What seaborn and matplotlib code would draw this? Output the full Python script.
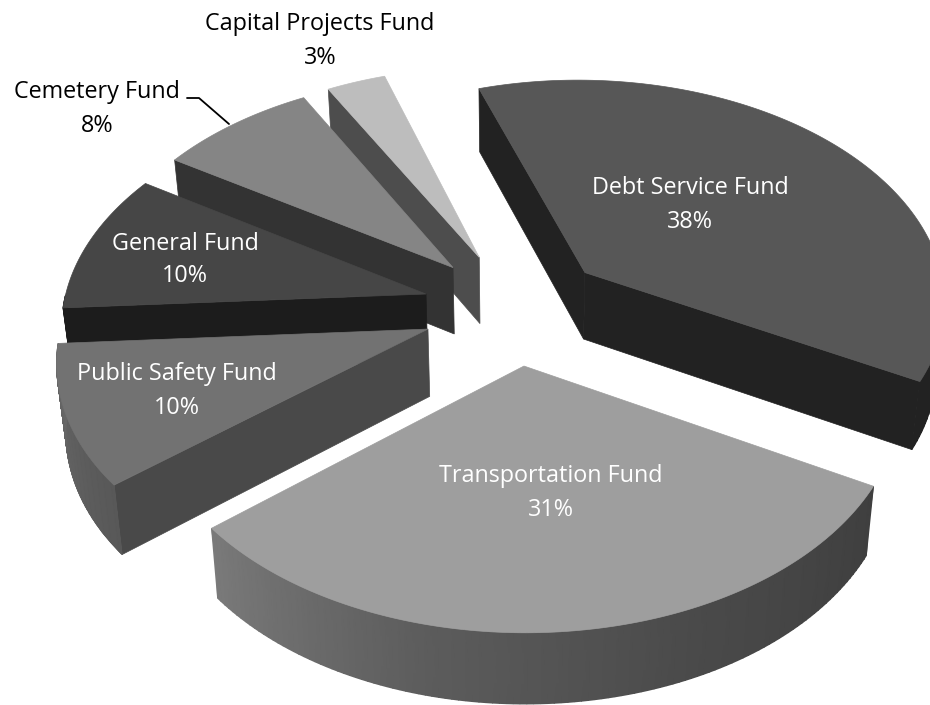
import numpy as np
import pandas as pd
import matplotlib
matplotlib.use('Agg')
import matplotlib.pyplot as plt
import seaborn as sns

# Chart values
funds = ['Debt Service Fund', 'Transportation Fund', 'Public Safety Fund',
         'General Fund', 'Cemetery Fund', 'Capital Projects Fund']
shares = [38, 31, 10, 10, 8, 3]

# Greys
top_colors = ['#575757', '#9e9e9e', '#727272', '#464646', '#858585', '#bdbdbd']
side_colors = ['#222222', '#444444', '#494949', '#1c1c1c', '#333333', '#4d4d4d']
rim_colors = [['#222222', '#222222'],
              ['#3f3f3f', '#4a4a4a', '#5c5c5c', '#7a7a7a'],
              ['#585858', '#686868'],
              ['#1c1c1c', '#1c1c1c'],
              ['#333333', '#333333'],
              ['#4d4d4d', '#4d4d4d']]
label_colors = ['white', 'white', 'white', 'white', 'black', 'black']
label_x = [690, 551, 177, 185, 97, 320]
label_y = [205, 493, 391, 260, 109, 41]

# Order the slices are painted in, back to front
paint_order = [5, 4, 3, 0, 2, 1]

# Pie geometry in pixels
cx, cy = 515, 308
radius_x, radius_y = 363, 222
persp_x, persp_y = 0.12, 0.114
explode = 0.255
depth = 67
depth_persp = 0.05
base_shrink = 0.98
start_angle = -18

sns.set_theme(style='white')
plt.rcParams['font.family'] = ['Open Sans', 'DejaVu Sans']


def project(p, q):
    x = cx + radius_x * p / (1 + persp_x * q)
    y = cy - radius_y * q / (1 + persp_y * q)
    return x, y


def lower(x, y, q):
    return cx + (x - cx) * base_shrink, y + depth * (1 - depth_persp * q)


df = pd.DataFrame({'fund': funds, 'share': shares})
df['end'] = start_angle + df['share'].cumsum() * 3.6
df['start'] = df['end'] - df['share'] * 3.6
df['mid'] = np.radians((df['start'] + df['end']) / 2)

fig = plt.figure(figsize=(9.3, 7.05), dpi=100)
ax = fig.add_axes([0, 0, 1, 1])
ax.set_xlim(0, 930)
ax.set_ylim(705, 0)
ax.axis('off')

for i in paint_order:
    row = df.iloc[i]
    theta = np.radians(np.linspace(row['start'], row['end'], 120))
    off_p = explode * np.sin(row['mid'])
    off_q = explode * np.cos(row['mid'])
    rim_q = off_q + np.cos(theta)
    rim_x, rim_y = project(off_p + np.sin(theta), rim_q)
    apex_x, apex_y = project(off_p, off_q)
    low_x, low_y = lower(rim_x, rim_y, rim_q)
    low_ax, low_ay = lower(apex_x, apex_y, off_q)

    # flat sides, only the ones turned to the viewer
    if np.sin(theta[0]) < 0:
        ax.fill([apex_x, rim_x[0], low_x[0], low_ax],
                [apex_y, rim_y[0], low_y[0], low_ay],
                color=side_colors[i], lw=0.5)
    if np.sin(theta[-1]) > 0:
        ax.fill([apex_x, rim_x[-1], low_x[-1], low_ax],
                [apex_y, rim_y[-1], low_y[-1], low_ay],
                color=side_colors[i], lw=0.5)

    # curved outer wall, front part only, with smooth shading
    front = np.cos(theta) < 0
    if front.sum() > 1:
        wall_cmap = sns.blend_palette(rim_colors[i], as_cmap=True)
        wall_x = np.vstack([rim_x[front], low_x[front]])
        wall_y = np.vstack([rim_y[front], low_y[front]])
        wall_c = np.tile(np.linspace(0, 1, front.sum()), (2, 1))
        ax.pcolormesh(wall_x, wall_y, wall_c, cmap=wall_cmap, shading='gouraud')

    # top face
    ax.fill(np.r_[apex_x, rim_x], np.r_[apex_y, rim_y],
            color=top_colors[i], lw=0.5)

for i, row in df.iterrows():
    ax.text(label_x[i], label_y[i], f"{row['fund']}\n{row['share']}%",
            color=label_colors[i], fontsize=16.8, ha='center', va='center',
            linespacing=1.5)

# leader line of the Cemetery Fund label
ax.plot([187, 199, 229], [98, 98, 124], color='black', lw=1.3)

fig.savefig('out.png', dpi=100)
